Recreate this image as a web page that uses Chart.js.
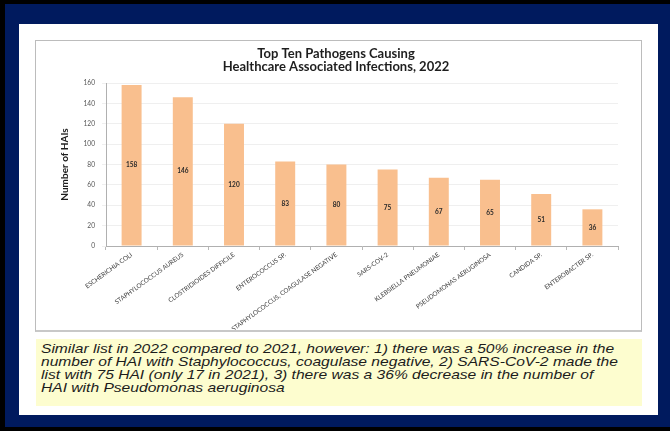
<!DOCTYPE html>
<html>
<head>
<meta charset="utf-8">
<script src="https://cdn.jsdelivr.net/npm/chart.js@4.4.1/dist/chart.umd.min.js"></script>
<style>
  html, body { margin: 0; padding: 0; }
  body { width: 670px; height: 431px; background: #000; position: relative; overflow: hidden; }
  #frame { position: absolute; left: 5px; top: 4px; width: 665px; height: 423px; background: #001a5e; }
  #sheet { position: absolute; left: 19px; top: 24px; width: 639px; height: 391px; background: #fff; }
  #chartBox { position: absolute; left: 35px; top: 40px; width: 607px; height: 292px;
              box-sizing: border-box; border: 1px solid #bcbcbc; border-bottom: 2px solid #c8c8c8; background: #fff; }
  #caption { position: absolute; left: 36px; top: 339px; width: 606px; height: 67px; box-sizing: border-box;
             background: #fdfdcf; padding: 3px 0 0 5px; color: #1c1c1c; }
  #caption div { font-family: "Liberation Sans", Arial, sans-serif; font-style: italic; font-size: 13px;
                 line-height: 13px; white-space: nowrap; transform: scaleX(1.2); transform-origin: left top; }
</style>
</head>
<body>
<div id="frame"></div>
<div id="sheet"></div>
<div id="chartBox"><canvas id="hai" width="605" height="289"></canvas></div>
<div id="caption"><div>Similar list in 2022 compared to 2021, however: 1) there was a 50% increase in the<br>number of HAI with Staphylococcus, coagulase negative, 2) SARS-CoV-2 made the<br>list with 75 HAI (only 17 in 2021), 3) there was a 36% decrease in the number of<br>HAI with Pseudomonas aeruginosa</div></div>
<script>
// pathogens and HAI counts for 2022
var pathogens = [
  "ESCHERICHIA COLI",
  "STAPHYLOCOCCUS AUREUS",
  "CLOSTRIDIOIDES DIFFICILE",
  "ENTEROCOCCUS SP.",
  "STAPHYLOCOCCUS, COAGULASE NEGATIVE",
  "SARS-COV-2",
  "KLEBSIELLA PNEUMONIAE",
  "PSEUDOMONAS AERUGINOSA",
  "CANDIDA SP.",
  "ENTEROBACTER SP."
];
var haiCounts = [158, 146, 120, 83, 80, 75, 67, 65, 51, 36];
var yTicks = [0, 20, 40, 60, 80, 100, 120, 140, 160];

var chartFont = "Lato, 'Open Sans', sans-serif";

// writes the count in the middle of each bar
var barValues = {
  id: 'barValues',
  afterDatasetsDraw: function(chart) {
    var ctx = chart.ctx;
    var meta = chart.getDatasetMeta(0);
    ctx.save();
    ctx.font = "bold 6.5px " + chartFont;
    ctx.fillStyle = "#2a2a2a";
    ctx.textAlign = "center";
    ctx.textBaseline = "middle";
    meta.data.forEach(function(bar, i) {
      ctx.fillText(chart.data.datasets[0].data[i], bar.x, (bar.y + bar.base) / 2);
    });
    ctx.restore();
  }
};

var ctx = document.getElementById('hai').getContext('2d');
var haiChart = new Chart(ctx, {
  type: 'bar',
  data: {
    labels: pathogens,
    datasets: [{
      label: 'Number of HAIs',
      data: haiCounts,
      backgroundColor: '#f9bf8e',
      borderWidth: 0,
      barPercentage: 0.39,
      categoryPercentage: 1
    }]
  },
  options: {
    responsive: false,
    animation: false,
    layout: { padding: { left: 18, right: 23, top: 0, bottom: 0 } },
    plugins: {
      legend: { display: false },
      tooltip: { enabled: false },
      title: {
        display: true,
        text: ["Top Ten Pathogens Causing", "Healthcare Associated Infections, 2022"],
        color: '#1e1e1e',
        font: { family: chartFont, size: 13, weight: 'bold', lineHeight: 1.0 },
        padding: { top: 6, bottom: 10 }
      }
    },
    scales: {
      x: {
        grid: { drawOnChartArea: false, tickLength: 4, color: '#b8b8b8', offset: true },
        border: { color: '#b0b0b0' },
        ticks: {
          autoSkip: false,
          minRotation: 36,
          maxRotation: 36,
          padding: 1,
          color: '#3a3a3a',
          font: { family: chartFont, size: 6.3 }
        },
        afterFit: function(scale) { scale.height = 84; }
      },
      y: {
        min: 0,
        max: 160,
        afterBuildTicks: function(scale) {
          scale.ticks = yTicks.map(function(v) { return { value: v }; });
        },
        grid: { color: '#efefef', tickLength: 4 },
        border: { color: '#b0b0b0' },
        ticks: {
          padding: 7,
          color: '#555',
          font: { family: chartFont, size: 6.6 }
        },
        title: {
          display: true,
          text: 'Number of HAIs',
          color: '#1e1e1e',
          font: { family: chartFont, size: 10, weight: 'bold' },
          padding: { top: 5, bottom: 0 }
        },
        afterFit: function(scale) { scale.width = 52; }
      }
    }
  },
  plugins: [barValues]
});
</script>
</body>
</html>
